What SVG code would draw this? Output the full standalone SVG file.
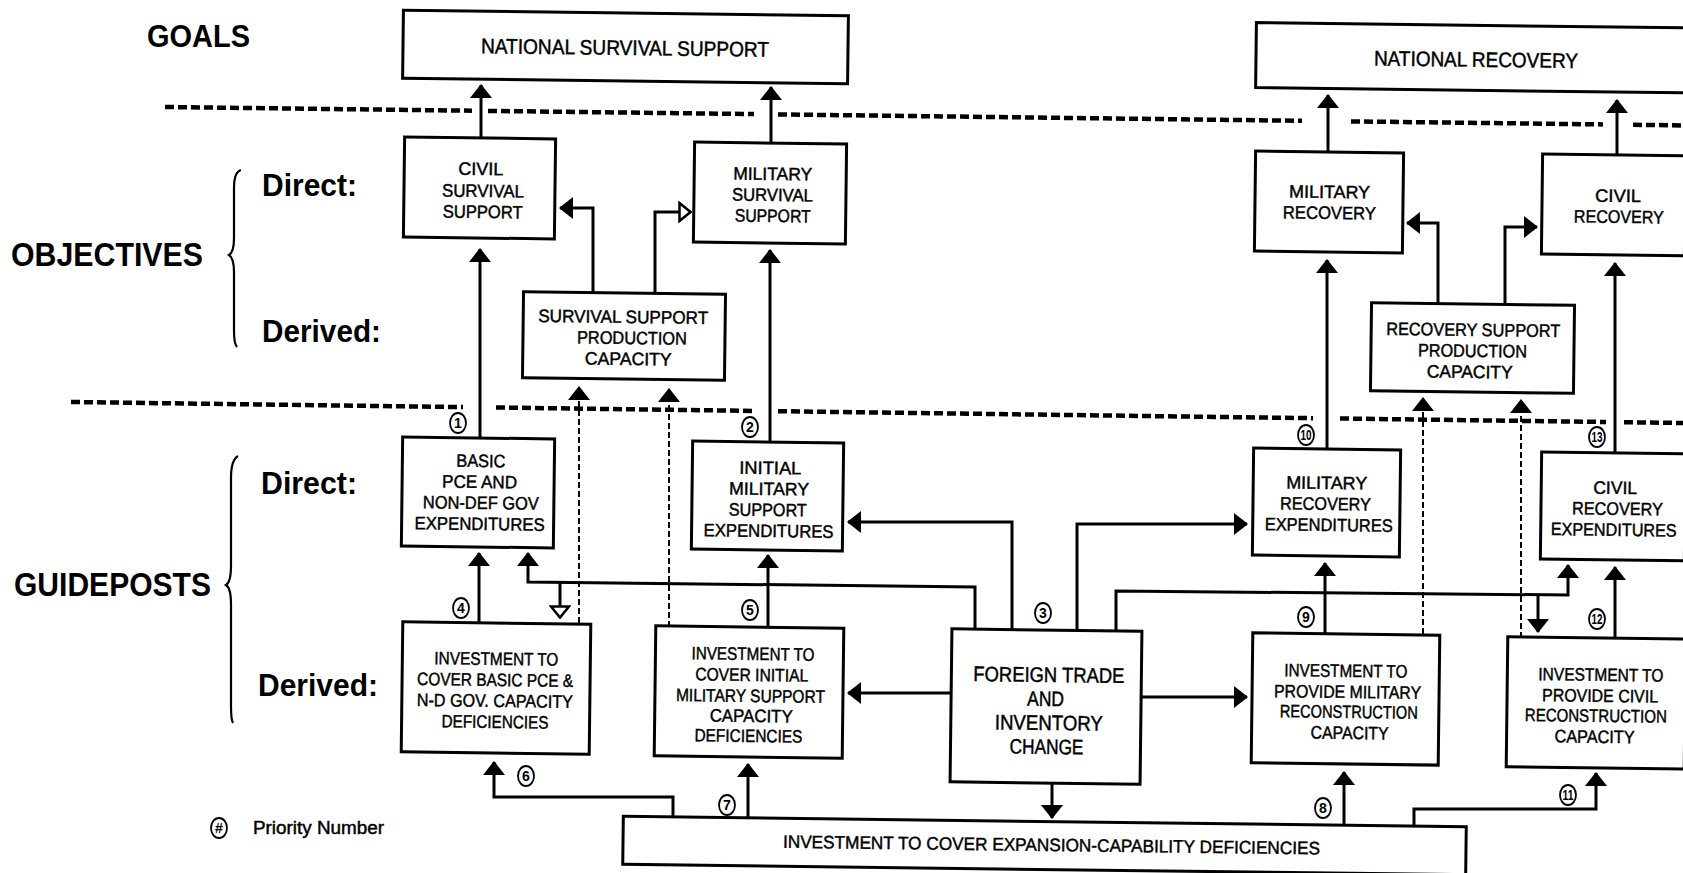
<svg xmlns="http://www.w3.org/2000/svg" width="1683" height="873" viewBox="0 0 1683 873">
<style>
.box{fill:#fff;stroke:#000;stroke-width:3}
.t{font-family:"Liberation Sans",Arial,sans-serif;font-size:18px;fill:#000;stroke:#000;stroke-width:0.45}
.tt{font-family:"Liberation Sans",Arial,sans-serif;font-size:21px;fill:#000;stroke:#000;stroke-width:0.45}
.lbl{font-family:"Liberation Sans",Arial,sans-serif;font-weight:bold;fill:#000}
.c{fill:none;stroke:#000;stroke-width:3}
.d{fill:none;stroke:#000;stroke-width:2;stroke-dasharray:6 3}
.sep{fill:none;stroke:#000;stroke-width:4.5;stroke-dasharray:9 4}
.brace{fill:none;stroke:#000;stroke-width:2.2}
.pc{fill:#fff;stroke:#000;stroke-width:1.8}
.pn{font-family:"Liberation Sans",Arial,sans-serif;font-weight:bold;font-size:14px;fill:#000;text-anchor:middle}
</style>
<defs>
<marker id="ah" viewBox="0 0 14 22" refX="13" refY="11" markerWidth="14" markerHeight="22" markerUnits="userSpaceOnUse" orient="auto"><path d="M0,0 L14,11 L0,22 z" fill="#000"/></marker>
<marker id="ao" viewBox="0 0 14 22" refX="13" refY="11" markerWidth="14" markerHeight="22" markerUnits="userSpaceOnUse" orient="auto"><path d="M1.5,2 L12.5,11 L1.5,20 z" fill="#fff" stroke="#000" stroke-width="2.5"/></marker>
</defs>
<rect width="1683" height="873" fill="#fff"/>

<g id="labels">
<text class="lbl" x="147" y="47" font-size="31" textLength="103" lengthAdjust="spacingAndGlyphs">GOALS</text>
<text class="lbl" x="11" y="266" font-size="33" textLength="192" lengthAdjust="spacingAndGlyphs">OBJECTIVES</text>
<text class="lbl" x="14" y="596" font-size="33" textLength="197" lengthAdjust="spacingAndGlyphs">GUIDEPOSTS</text>
<text class="lbl" x="262" y="196" font-size="31" textLength="95" lengthAdjust="spacingAndGlyphs">Direct:</text>
<text class="lbl" x="262" y="342" font-size="31" textLength="119" lengthAdjust="spacingAndGlyphs">Derived:</text>
<text class="lbl" x="261" y="494" font-size="31" textLength="96" lengthAdjust="spacingAndGlyphs">Direct:</text>
<text class="lbl" x="258" y="696" font-size="31" textLength="120" lengthAdjust="spacingAndGlyphs">Derived:</text>
<path class="brace" d="M241,170 Q234,172 234,188 L234,238 Q234,252 229,255 Q234,258 234,272 L234,330 Q234,344 237,347"/>
<path class="brace" d="M238,456 Q231,460 231,478 L231,566 Q231,582 226,585 Q231,588 231,604 L231,706 Q231,720 233,723"/>
</g>

<g id="separators">
<path class="sep" d="M165,107 L472,110.7 M488,110.9 L754,114.1 M778,114.4 L1302,120.8 M1351,121.4 L1603,124.4 M1633,124.8 L1683,125.4"/>
<path class="sep" d="M71,402 L463,407.1 M496,407.5 L753,410.9 M778,411.2 L1313,418.2 M1340,418.5 L1606,422 M1624,422.2 L1683,423"/>
</g>

<g id="n-nss" transform="rotate(0.7 625.5 47)"><rect class="box" x="403" y="13" width="445" height="68"/><text class="tt" x="481" y="55" textLength="288" lengthAdjust="spacingAndGlyphs">NATIONAL SURVIVAL SUPPORT</text></g>
<g id="n-nr" transform="rotate(0.7 1491 58)"><rect class="box" x="1256" y="25.5" width="430" height="65"/><text class="tt" x="1374" y="67" textLength="204" lengthAdjust="spacingAndGlyphs">NATIONAL RECOVERY</text></g>

<g id="n-css" transform="rotate(0.7 479.5 188)"><rect class="box" x="404" y="138" width="151" height="100"/>
<text class="t" x="458" y="175" textLength="45" lengthAdjust="spacingAndGlyphs">CIVIL</text>
<text class="t" x="442" y="197" textLength="82" lengthAdjust="spacingAndGlyphs">SURVIVAL</text>
<text class="t" x="443" y="218" textLength="80" lengthAdjust="spacingAndGlyphs">SUPPORT</text></g>

<g id="n-mss" transform="rotate(0.7 770 193)"><rect class="box" x="694" y="143" width="152" height="100"/>
<text class="t" x="733" y="180" textLength="79" lengthAdjust="spacingAndGlyphs">MILITARY</text>
<text class="t" x="732" y="201" textLength="81" lengthAdjust="spacingAndGlyphs">SURVIVAL</text>
<text class="t" x="735" y="222" textLength="76" lengthAdjust="spacingAndGlyphs">SUPPORT</text></g>

<g id="n-sspc" transform="rotate(0.7 624 336)"><rect class="box" x="523" y="293" width="202" height="86"/>
<text class="t" x="538" y="323" textLength="170" lengthAdjust="spacingAndGlyphs">SURVIVAL SUPPORT</text>
<text class="t" x="577" y="344" textLength="110" lengthAdjust="spacingAndGlyphs">PRODUCTION</text>
<text class="t" x="585" y="365" textLength="87" lengthAdjust="spacingAndGlyphs">CAPACITY</text></g>

<g id="n-mr" transform="rotate(0.7 1329 202)"><rect class="box" x="1255" y="152" width="148" height="100"/>
<text class="t" x="1289" y="198" textLength="81" lengthAdjust="spacingAndGlyphs">MILITARY</text>
<text class="t" x="1283" y="219" textLength="93" lengthAdjust="spacingAndGlyphs">RECOVERY</text></g>

<g id="n-cr" transform="rotate(0.7 1622 205)"><rect class="box" x="1542" y="155" width="143" height="100"/>
<text class="t" x="1595" y="202" textLength="46" lengthAdjust="spacingAndGlyphs">CIVIL</text>
<text class="t" x="1574" y="223" textLength="90" lengthAdjust="spacingAndGlyphs">RECOVERY</text></g>

<g id="n-rspc" transform="rotate(0.7 1472.5 348)"><rect class="box" x="1371" y="304" width="203" height="88"/>
<text class="t" x="1386" y="336" textLength="174" lengthAdjust="spacingAndGlyphs">RECOVERY SUPPORT</text>
<text class="t" x="1418" y="357" textLength="109" lengthAdjust="spacingAndGlyphs">PRODUCTION</text>
<text class="t" x="1427" y="378" textLength="86" lengthAdjust="spacingAndGlyphs">CAPACITY</text></g>

<g id="n-basic" transform="rotate(0.7 478 492.5)"><rect class="box" x="402" y="438" width="152" height="109"/>
<text class="t" x="456" y="467" textLength="49" lengthAdjust="spacingAndGlyphs">BASIC</text>
<text class="t" x="442" y="488" textLength="75" lengthAdjust="spacingAndGlyphs">PCE AND</text>
<text class="t" x="423" y="509" textLength="116" lengthAdjust="spacingAndGlyphs">NON-DEF GOV</text>
<text class="t" x="415" y="530" textLength="130" lengthAdjust="spacingAndGlyphs">EXPENDITURES</text></g>

<g id="n-imse" transform="rotate(0.7 767.5 496)"><rect class="box" x="692" y="442" width="151" height="108"/>
<text class="t" x="739" y="474" textLength="62" lengthAdjust="spacingAndGlyphs">INITIAL</text>
<text class="t" x="729" y="495" textLength="80" lengthAdjust="spacingAndGlyphs">MILITARY</text>
<text class="t" x="729" y="516" textLength="78" lengthAdjust="spacingAndGlyphs">SUPPORT</text>
<text class="t" x="704" y="537" textLength="130" lengthAdjust="spacingAndGlyphs">EXPENDITURES</text></g>

<g id="n-mre" transform="rotate(0.7 1326.5 502.5)"><rect class="box" x="1253" y="449" width="147" height="107"/>
<text class="t" x="1286" y="489" textLength="81" lengthAdjust="spacingAndGlyphs">MILITARY</text>
<text class="t" x="1280" y="510" textLength="91" lengthAdjust="spacingAndGlyphs">RECOVERY</text>
<text class="t" x="1265" y="531" textLength="128" lengthAdjust="spacingAndGlyphs">EXPENDITURES</text></g>

<g id="n-cre" transform="rotate(0.7 1623.5 506.5)"><rect class="box" x="1541" y="453" width="144" height="107"/>
<text class="t" x="1593" y="494" textLength="44" lengthAdjust="spacingAndGlyphs">CIVIL</text>
<text class="t" x="1572" y="515" textLength="91" lengthAdjust="spacingAndGlyphs">RECOVERY</text>
<text class="t" x="1677" y="536" text-anchor="end" textLength="126" lengthAdjust="spacingAndGlyphs">EXPENDITURES</text></g>

<g id="n-inv1" transform="rotate(0.7 496 688)"><rect class="box" x="402" y="623" width="188" height="130"/>
<text class="t" x="434" y="665" textLength="124" lengthAdjust="spacingAndGlyphs">INVESTMENT TO</text>
<text class="t" x="417" y="686" textLength="156" lengthAdjust="spacingAndGlyphs">COVER BASIC PCE &amp;</text>
<text class="t" x="417" y="707" textLength="156" lengthAdjust="spacingAndGlyphs">N-D GOV. CAPACITY</text>
<text class="t" x="442" y="728" textLength="107" lengthAdjust="spacingAndGlyphs">DEFICIENCIES</text></g>

<g id="n-inv2" transform="rotate(0.7 749 692)"><rect class="box" x="655" y="627" width="188" height="130"/>
<text class="t" x="691" y="660" textLength="123" lengthAdjust="spacingAndGlyphs">INVESTMENT TO</text>
<text class="t" x="695" y="681" textLength="113" lengthAdjust="spacingAndGlyphs">COVER INITIAL</text>
<text class="t" x="676" y="702" textLength="149" lengthAdjust="spacingAndGlyphs">MILITARY SUPPORT</text>
<text class="t" x="710" y="722" textLength="83" lengthAdjust="spacingAndGlyphs">CAPACITY</text>
<text class="t" x="695" y="742" textLength="108" lengthAdjust="spacingAndGlyphs">DEFICIENCIES</text></g>

<g id="n-ftic" transform="rotate(0.7 1046 706.5)"><rect class="box" x="951" y="630" width="190" height="153"/>
<text class="tt" x="973" y="682" textLength="151" lengthAdjust="spacingAndGlyphs">FOREIGN TRADE</text>
<text class="tt" x="1027" y="706" textLength="37" lengthAdjust="spacingAndGlyphs">AND</text>
<text class="tt" x="995" y="730" textLength="108" lengthAdjust="spacingAndGlyphs">INVENTORY</text>
<text class="tt" x="1010" y="754" textLength="74" lengthAdjust="spacingAndGlyphs">CHANGE</text></g>

<g id="n-inv3" transform="rotate(0.7 1345.5 699)"><rect class="box" x="1252" y="634" width="187" height="130"/>
<text class="t" x="1284" y="677" textLength="123" lengthAdjust="spacingAndGlyphs">INVESTMENT TO</text>
<text class="t" x="1274" y="698" textLength="147" lengthAdjust="spacingAndGlyphs">PROVIDE MILITARY</text>
<text class="t" x="1280" y="718" textLength="138" lengthAdjust="spacingAndGlyphs">RECONSTRUCTION</text>
<text class="t" x="1311" y="739" textLength="78" lengthAdjust="spacingAndGlyphs">CAPACITY</text></g>

<g id="n-icr" transform="rotate(0.7 1607 703)"><rect class="box" x="1507" y="638" width="178" height="130"/>
<text class="t" x="1538" y="681" textLength="125" lengthAdjust="spacingAndGlyphs">INVESTMENT TO</text>
<text class="t" x="1542" y="702" textLength="116" lengthAdjust="spacingAndGlyphs">PROVIDE CIVIL</text>
<text class="t" x="1667" y="722" text-anchor="end" textLength="142" lengthAdjust="spacingAndGlyphs">RECONSTRUCTION</text>
<text class="t" x="1555" y="743" textLength="80" lengthAdjust="spacingAndGlyphs">CAPACITY</text></g>

<g id="n-exp" transform="rotate(0.7 1044.5 845.5)"><rect class="box" x="623" y="821.5" width="843" height="48"/>
<text class="t" x="783" y="851" textLength="537" lengthAdjust="spacingAndGlyphs">INVESTMENT TO COVER EXPANSION-CAPABILITY DEFICIENCIES</text></g>

<g id="connectors">
<path class="c" d="M481,138 L481,85" marker-end="url(#ah)"/>
<path class="c" d="M771,143 L771,87" marker-end="url(#ah)"/>
<path class="c" d="M1328,152 L1328,95" marker-end="url(#ah)"/>
<path class="c" d="M1617,155 L1617,100" marker-end="url(#ah)"/>
<path class="c" d="M480,438 L480,249" marker-end="url(#ah)"/>
<path class="c" d="M770,442 L770,250" marker-end="url(#ah)"/>
<path class="c" d="M1327,449 L1327,260" marker-end="url(#ah)"/>
<path class="c" d="M1615,453 L1615,263" marker-end="url(#ah)"/>
<path class="c" d="M593,293 L593,208 L560,208" marker-end="url(#ah)"/>
<path class="c" d="M655,293 L655,212 L691,212" marker-end="url(#ao)"/>
<path class="c" d="M1438,304 L1438,223 L1407,223" marker-end="url(#ah)"/>
<path class="c" d="M1505,304 L1505,227 L1537,227" marker-end="url(#ah)"/>
<path class="d" d="M579,623 L579,387" marker-end="url(#ah)"/>
<path class="d" d="M669,627 L669,389" marker-end="url(#ah)"/>
<path class="d" d="M1423,634 L1423,398" marker-end="url(#ah)"/>
<path class="d" d="M1521,638 L1521,400" marker-end="url(#ah)"/>
<path class="c" d="M479,623 L479,553" marker-end="url(#ah)"/>
<path class="c" d="M975,630 L975,587 L528,582 L528,553" marker-end="url(#ah)"/>
<path class="c" d="M560,582.4 L560,618" marker-end="url(#ao)"/>
<path class="c" d="M768,628 L768,555" marker-end="url(#ah)"/>
<path class="c" d="M1012,630 L1012,522 L848,522" marker-end="url(#ah)"/>
<path class="c" d="M951,693 L848,693" marker-end="url(#ah)"/>
<path class="c" d="M1077,630 L1077,524 L1247,524" marker-end="url(#ah)"/>
<path class="c" d="M1116,630 L1116,591 L1568,595 L1568,565" marker-end="url(#ah)"/>
<path class="c" d="M1538,594.7 L1538,632" marker-end="url(#ah)"/>
<path class="c" d="M1141,697 L1247,697" marker-end="url(#ah)"/>
<path class="c" d="M1052,783 L1052,818" marker-end="url(#ah)"/>
<path class="c" d="M1325,634 L1325,563" marker-end="url(#ah)"/>
<path class="c" d="M1615,638 L1615,567" marker-end="url(#ah)"/>
<path class="c" d="M673,818 L673,797 L494,797 L494,762" marker-end="url(#ah)"/>
<path class="c" d="M748,819 L748,764" marker-end="url(#ah)"/>
<path class="c" d="M1344,826 L1344,772" marker-end="url(#ah)"/>
<path class="c" d="M1414,827 L1414,809 L1596,809 L1596,773" marker-end="url(#ah)"/>
</g>

<g id="priorities">
<ellipse class="pc" cx="458" cy="423" rx="8" ry="10"/><text class="pn" x="458" y="428">1</text>
<ellipse class="pc" cx="750" cy="427" rx="8" ry="10"/><text class="pn" x="750" y="432">2</text>
<ellipse class="pc" cx="1043" cy="613" rx="8" ry="10"/><text class="pn" x="1043" y="618">3</text>
<ellipse class="pc" cx="461" cy="608" rx="8" ry="10"/><text class="pn" x="461" y="613">4</text>
<ellipse class="pc" cx="750" cy="610" rx="8" ry="10"/><text class="pn" x="750" y="615">5</text>
<ellipse class="pc" cx="526" cy="776" rx="8" ry="10"/><text class="pn" x="526" y="781">6</text>
<ellipse class="pc" cx="727" cy="805" rx="8" ry="10"/><text class="pn" x="727" y="810">7</text>
<ellipse class="pc" cx="1323" cy="808" rx="8" ry="10"/><text class="pn" x="1323" y="813">8</text>
<ellipse class="pc" cx="1306" cy="617" rx="8" ry="10"/><text class="pn" x="1306" y="622">9</text>
<ellipse class="pc" cx="1306" cy="435" rx="8" ry="10"/><text class="pn" x="1306" y="439.5" font-size="12" textLength="11" lengthAdjust="spacingAndGlyphs">10</text>
<ellipse class="pc" cx="1568" cy="795" rx="8" ry="10"/><text class="pn" x="1568" y="799.5" font-size="12" textLength="11" lengthAdjust="spacingAndGlyphs">11</text>
<ellipse class="pc" cx="1597" cy="619" rx="8" ry="10"/><text class="pn" x="1597" y="623.5" font-size="12" textLength="11" lengthAdjust="spacingAndGlyphs">12</text>
<ellipse class="pc" cx="1597" cy="437" rx="8" ry="10"/><text class="pn" x="1597" y="441.5" font-size="12" textLength="11" lengthAdjust="spacingAndGlyphs">13</text>
</g>

<g id="legend">
<ellipse class="pc" cx="219" cy="828" rx="8" ry="10"/><text class="pn" x="219" y="833">#</text>
<text class="t" x="253" y="834" font-size="19" textLength="131" lengthAdjust="spacingAndGlyphs">Priority Number</text>
</g>
</svg>
